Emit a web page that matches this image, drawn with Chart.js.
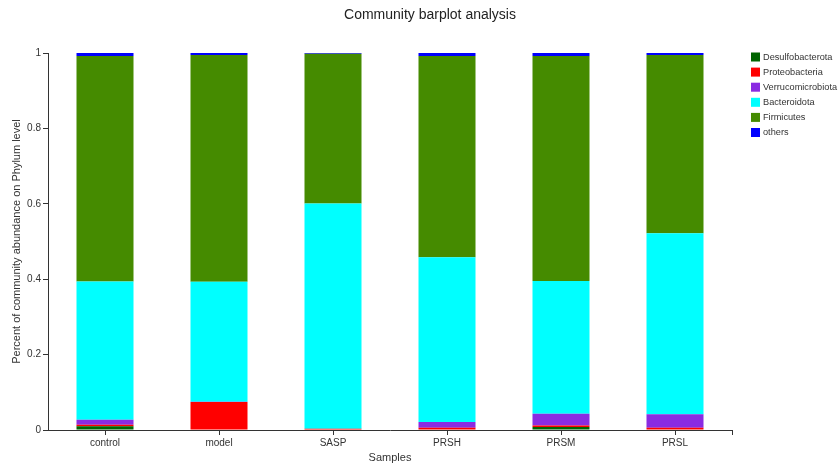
<!DOCTYPE html>
<html>
<head>
<meta charset="utf-8">
<script src="https://cdn.jsdelivr.net/npm/chart.js@4/dist/chart.umd.min.js"></script>
<style>
html,body{margin:0;padding:0;background:#fff;}
#wrap{width:839px;height:465px;position:relative;}
</style>
</head>
<body>
<div id="wrap"><canvas id="c" width="839" height="465"></canvas></div>
<script>
const samples = ["control", "model", "SASP", "PRSH", "PRSM", "PRSL"];
const desulfobacterota = [0.010, 0.000, 0.000, 0.001, 0.008, 0.001];
const proteobacteria   = [0.004, 0.074, 0.003, 0.005, 0.004, 0.005];
const verrucomicrobiota= [0.013, 0.001, 0.000, 0.015, 0.031, 0.036];
const bacteroidota     = [0.367, 0.318, 0.598, 0.437, 0.352, 0.480];
const firmicutes       = [0.598, 0.602, 0.397, 0.534, 0.597, 0.473];
const others           = [0.008, 0.005, 0.002, 0.008, 0.008, 0.005];
const yTicks = [0, 0.2, 0.4, 0.6, 0.8, 1];

const seriesNames = ["Desulfobacterota", "Proteobacteria", "Verrucomicrobiota", "Bacteroidota", "Firmicutes", "others"];
const seriesData = [desulfobacterota, proteobacteria, verrucomicrobiota, bacteroidota, firmicutes, others];
const seriesColors = ["#006400", "#ff0000", "#8a2be2", "#00ffff", "#458b00", "#0000ff"];
const chartTitle = "Community barplot analysis";

const FONT = "'Liberation Sans', Arial, sans-serif";

const decorPlugin = {
  id: 'decor',
  afterDraw(chart) {
    const ctx = chart.ctx;
    ctx.save();
    // title
    ctx.font = "14px " + FONT;
    ctx.fillStyle = '#222';
    ctx.textAlign = 'center';
    ctx.textBaseline = 'middle';
    ctx.fillText(chartTitle, 430, 15);
    // legend
    ctx.font = "9.2px " + FONT;
    ctx.textAlign = 'left';
    const x0 = 751, y0 = 57, step = 15.1;
    chart.data.datasets.forEach((ds, i) => {
      const y = y0 + i * step;
      ctx.fillStyle = ds.backgroundColor;
      ctx.fillRect(x0, y - 4.5, 9, 9);
      ctx.fillStyle = '#333';
      ctx.fillText(ds.label, x0 + 12, y);
    });
    // outer end tick on x axis
    const a = chart.chartArea;
    ctx.strokeStyle = '#333';
    ctx.lineWidth = 1;
    ctx.beginPath();
    ctx.moveTo(Math.round(a.right) + 0.5, a.bottom);
    ctx.lineTo(Math.round(a.right) + 0.5, a.bottom + 5);
    ctx.stroke();
    ctx.restore();
  }
};

new Chart(document.getElementById('c'), {
  type: 'bar',
  data: {
    labels: samples,
    datasets: seriesNames.map((n, i) => ({
      label: n,
      data: seriesData[i],
      backgroundColor: seriesColors[i],
      borderWidth: 0,
      barPercentage: 0.5,
      categoryPercentage: 1.0
    }))
  },
  options: {
    responsive: false,
    animation: false,
    layout: { padding: { left: 10, right: 107, top: 53, bottom: 0 } },
    plugins: {
      legend: { display: false },
      tooltip: { enabled: false },
      title: { display: false }
    },
    scales: {
      x: {
        stacked: true,
        grid: { display: true, drawOnChartArea: false, drawTicks: true, tickLength: 5, offset: false, color: '#333' },
        border: { display: true, color: '#333', width: 1 },
        ticks: { color: '#333', font: { family: FONT, size: 10 }, padding: 2, maxRotation: 0 },
        title: { display: true, text: 'Samples', color: '#333', font: { family: FONT, size: 11 }, padding: { top: 4, bottom: 0 } },
        afterFit(s) { s.height = 35; }
      },
      y: {
        stacked: true,
        min: 0, max: 1,
        afterBuildTicks(s) { s.ticks = yTicks.map(v => ({ value: v })); },
        grid: { display: true, drawOnChartArea: false, drawTicks: true, tickLength: 5, color: '#333' },
        border: { display: true, color: '#333', width: 1 },
        ticks: { color: '#333', font: { family: FONT, size: 10 }, padding: 2, callback: (v) => String(+Number(v).toFixed(1)) },
        title: { display: true, text: 'Percent of community abundance on Phylum level', color: '#333', font: { family: FONT, size: 11 }, padding: { top: 0, bottom: 6 } },
        afterFit(s) { s.width = 38; }
      }
    }
  },
  plugins: [decorPlugin]
});
</script>
</body>
</html>
